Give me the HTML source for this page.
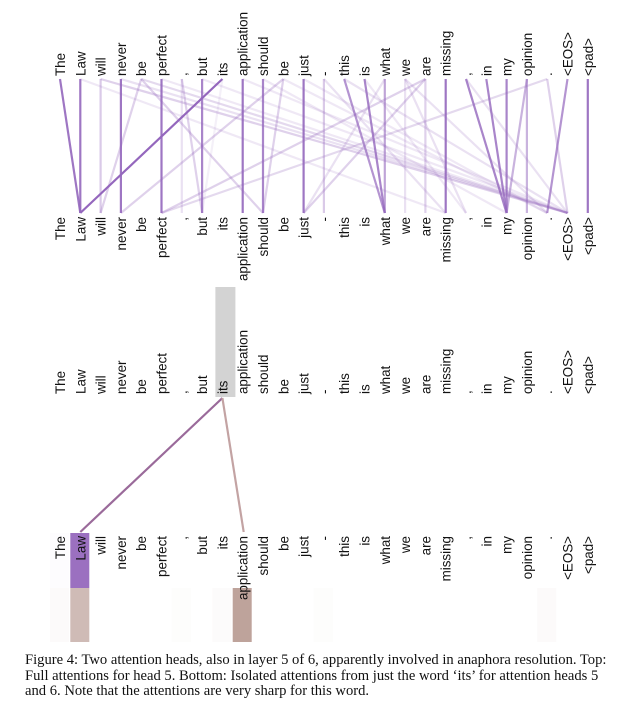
<!DOCTYPE html>
<html><head><meta charset="utf-8"><style>
html,body{margin:0;padding:0;background:#fff;width:626px;height:713px;overflow:hidden}
svg text{font-family:"Liberation Sans",sans-serif;font-size:13.4px;fill:#111}
#cap{position:absolute;left:25px;top:653px;white-space:nowrap;font-family:"Liberation Serif",serif;font-size:14.6px;line-height:15.6px;color:#111}
</style></head><body>
<svg id="fig" width="626" height="713" style="position:absolute;left:0;top:0"></svg>
<div id="cap">Figure 4: Two attention heads, also in layer 5 of 6, apparently involved in anaphora resolution. Top:<br>Full attentions for head 5. Bottom: Isolated attentions from just the word ‘its’ for attention heads 5<br>and 6. Note that the attentions are very sharp for this word.</div>
<script>
const tokens=["The","Law","will","never","be","perfect",",","but","its","application","should","be","just","-","this","is","what","we","are","missing",",","in","my","opinion",".","<EOS>","<pad>"];
const edgeSrc=[0,1,3,5,7,8,9,10,12,19,14,15,16,20,21,22,23,23,25,26,2,2,4,4,4,6,6,11,11,13,17,18,18,18,24,24,16,13,17,3,5,14,20,12,9,1,15,17,11,7,10,8];
const edgeDst=[1,1,3,5,7,1,9,10,12,19,16,16,16,22,22,22,22,23,24,26,2,25,25,2,10,6,7,3,10,13,17,18,5,12,5,25,12,19,24,25,25,25,25,24,25,19,20,20,24,25,22,7];
const edgeW=[.9,.9,.9,.9,.8,1,.9,.8,.9,.9,.7,.8,.6,.8,.8,.8,.5,.5,.7,.9,.35,.3,.25,.3,.3,.2,.3,.3,.3,.35,.2,.3,.3,.3,.25,.3,.2,.2,.2,.2,.15,.2,.2,.15,.15,.15,.15,.2,.15,.15,.15,.1];
const head5=[0.02,1,0,0,0,0,0,0,0,0,0,0,0,0,0,0,0,0,0,0,0,0,0,0,0,0,0];
const head6=[0.04,0.55,0,0,0,0,0.02,0,0.03,0.75,0,0,0,0.02,0,0,0,0,0,0,0,0,0,0,0.04,0,0];
const NS="http://www.w3.org/2000/svg",svg=document.getElementById('fig');
const x=i=>60+20.3*i;
function mk(t,a,p){const e=document.createElementNS(NS,t);for(const k in a)e.setAttribute(k,a[k]);(p||svg).appendChild(e);return e;}
function label(i,y,anchor,name){const t=mk('text',{x:x(i)+5,y:y,transform:`rotate(-90 ${x(i)+5} ${y})`,'text-anchor':anchor});t.textContent=tokens[i];

return t;}
for(let k=0;k<edgeSrc.length;k++){const l=mk('line',{x1:x(edgeSrc[k]),y1:79,x2:x(edgeDst[k]),y2:213,stroke:'#9467bd','stroke-width':2.2,'stroke-opacity':edgeW[k]});

}
tokens.forEach((t,i)=>{label(i,76,'start','top-source-token');label(i,217,'end','top-target-token');});
const hl=mk('rect',{x:x(8)-7,y:287,width:20,height:110,fill:'#d3d3d3'});


tokens.forEach((t,i)=>{
 if(head5[i]>0){const r=mk('rect',{x:x(i)-10,y:533,width:19,height:55,fill:'#9b70c0','fill-opacity':head5[i]});
 
 }
 if(head6[i]>0){const r=mk('rect',{x:x(i)-10,y:588,width:19,height:54,fill:'#a8847a','fill-opacity':head6[i]});
 
 }
});
const l5=mk('line',{x1:x(8),y1:398,x2:x(1),y2:532,stroke:'#9a6a9a','stroke-width':2.2});


const l6=mk('line',{x1:x(8),y1:398,x2:x(9)+1,y2:532,stroke:'#c3a3a3','stroke-width':2.2});


tokens.forEach((t,i)=>{label(i,394,'start','middle-source-token');label(i,536,'end','bottom-target-token');});
</script>
</body></html>
